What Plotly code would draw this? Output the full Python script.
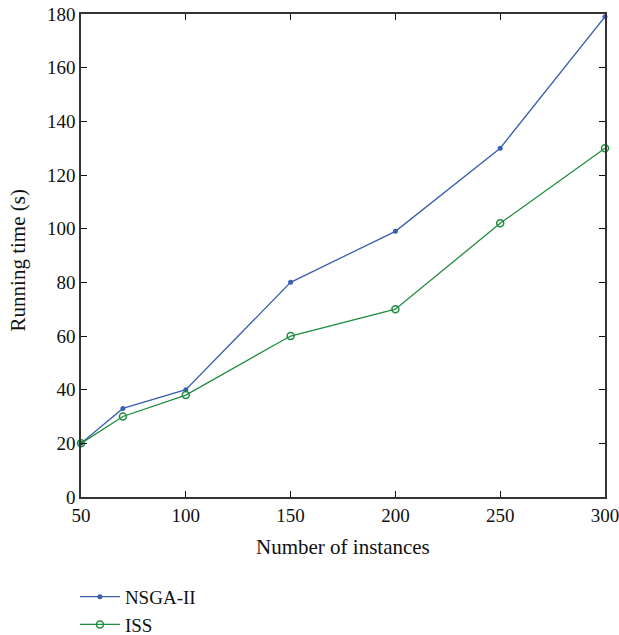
import plotly.graph_objects as go

instances = [50, 70, 100, 150, 200, 250, 300]
nsga = [20, 33, 40, 80, 99, 130, 179]
iss = [20, 30, 38, 60, 70, 102, 130]

FAM = "Liberation Serif, Times New Roman, serif"
font = dict(family=FAM, size=19, color="#111")
title_font = dict(family=FAM, size=21, color="#111")

fig = go.Figure()
fig.add_trace(go.Scatter(x=instances, y=nsga, mode="lines+markers", name="NSGA-II",
                         line=dict(color="#3a5fb0", width=1.3),
                         marker=dict(symbol="circle", size=5, color="#3a5fb0"), cliponaxis=False))
fig.add_trace(go.Scatter(x=instances, y=iss, mode="lines+markers", name="ISS",
                         line=dict(color="#1f8c3f", width=1.3),
                         marker=dict(symbol="circle-open", size=7, color="#1f8c3f", line=dict(width=1.5)),
                         cliponaxis=False))

axis_common = dict(showgrid=False, zeroline=False, showline=True, linecolor="#333", linewidth=1.5,
                   mirror="allticks", ticks="inside", ticklen=6, tickcolor="#111", tickwidth=1.2,
                   tickfont=font, automargin=False, ticklabeloverflow="allow")
fig.update_xaxes(range=[50, 300], tickvals=[50, 100, 150, 200, 250, 300], **axis_common)
fig.update_yaxes(range=[0, 180], tickvals=list(range(0, 181, 20)), **axis_common)

# axis titles as annotations (fixed positions)
fig.add_annotation(text="Number of instances", xref="paper", yref="paper", x=0.5, y=-0.1035,
                   xanchor="center", yanchor="middle", showarrow=False, font=title_font)
fig.add_annotation(text="Running time (s)", xref="paper", yref="paper", x=-0.12, y=0.49,
                   xanchor="center", yanchor="middle", textangle=-90, showarrow=False, font=title_font)

fig.update_layout(width=619, height=635, margin=dict(l=81, r=14, t=14, b=138, autoexpand=False),
                  plot_bgcolor="white", paper_bgcolor="white", font=font,
                  legend=dict(xref="container", yref="container", x=0.121, y=0.09,
                              xanchor="left", yanchor="top",
                              font=dict(family=FAM, size=19, color="#111"),
                              bgcolor="rgba(0,0,0,0)", tracegroupgap=0, itemwidth=40))
fig.write_html("out.html", config={"displayModeBar": False},
               post_script="document.body.style.margin='0';document.body.style.overflow='hidden';")
